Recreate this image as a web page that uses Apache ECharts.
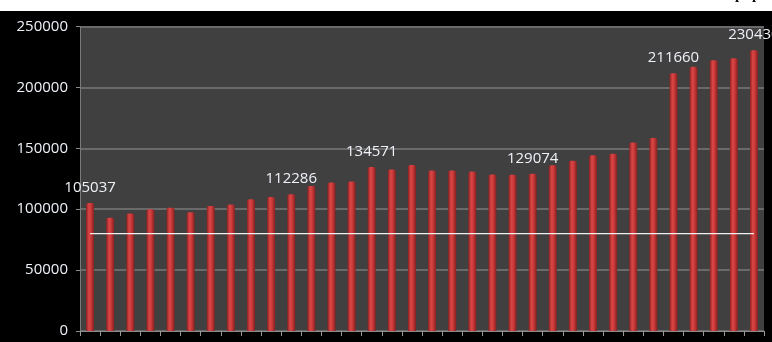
<!DOCTYPE html>
<html>
<head>
<meta charset="utf-8">
<script src="https://cdn.jsdelivr.net/npm/echarts@6/dist/echarts.min.js"></script>
<style>
  html, body { margin: 0; padding: 0; background: #ffffff; }
  #chart { width: 772px; height: 342px; }
</style>
</head>
<body>
<div id="chart"></div>
<script>
// Period labels along the horizontal axis (not printed on the axis)
const categories = ['1','2','3','4','5','6','7','8','9','10','11','12','13','14','15','16','17',
  '18','19','20','21','22','23','24','25','26','27','28','29','30','31','32','33','34'];

// Bar values
const barValues = [105037, 92900, 96500, 100000, 101100, 97500, 102700, 103900, 108200,
  110100, 112286, 119100, 121900, 122700, 134571, 132500, 136300, 131700, 131700,
  130900, 128400, 128300, 129074, 136000, 139700, 144200, 145600, 154800, 158500,
  211660, 216900, 222300, 224000, 230430];

// Bars that carry a value label
const labeledBars = [0, 10, 14, 22, 29, 33];

// Constant reference level drawn as a white line across the bars
const referenceLevel = 80000;
const referenceValues = categories.map(() => referenceLevel);

// Y-axis range
const yMin = 0, yMax = 250000, yStep = 50000;

const barGradient = new echarts.graphic.LinearGradient(0, 0, 1, 0, [
  { offset: 0, color: '#8a2020' },
  { offset: 0.35, color: '#d84646' },
  { offset: 0.6, color: '#cc3a3a' },
  { offset: 1, color: '#852020' }
]);

const labelFont = { fontFamily: 'Open Sans', fontSize: 15, color: '#eef2f8' };

const chart = echarts.init(document.getElementById('chart'), null, { renderer: 'canvas' });

chart.setOption({
  backgroundColor: '#000000',
  animation: false,
  grid: {
    left: 80, right: 8, top: 26.5, bottom: 11,
    show: true, backgroundColor: '#404040', borderWidth: 0
  },
  xAxis: {
    type: 'category',
    data: categories,
    boundaryGap: true,
    axisLine: { lineStyle: { color: '#8a8a8a', width: 1 } },
    axisTick: { show: true, length: 5, lineStyle: { color: '#9a9a9a' } },
    axisLabel: { show: false },
    splitLine: { show: false }
  },
  yAxis: {
    type: 'value',
    min: yMin, max: yMax, interval: yStep,
    axisLine: { show: true, lineStyle: { color: '#7a7a7a', width: 1 } },
    axisTick: { show: true, length: 4, lineStyle: { color: '#8a8a8a' } },
    axisLabel: Object.assign({ margin: 12, formatter: v => String(v) }, labelFont),
    splitLine: { show: true, lineStyle: { color: '#6a6a6a', width: 2 } }
  },
  series: [
    {
      type: 'bar',
      barWidth: 8,
      data: barValues.map((v, i) => ({
        value: v,
        label: { show: labeledBars.includes(i) }
      })),
      itemStyle: { color: barGradient, borderRadius: [2, 2, 0, 0] },
      label: Object.assign({
        position: 'top',
        distance: 8,
        formatter: p => String(p.value)
      }, labelFont),
      z: 2
    },
    {
      type: 'line',
      data: referenceValues,
      showSymbol: false,
      symbol: 'none',
      lineStyle: { color: '#f0f0f0', width: 1.2 },
      z: 3
    }
  ],
  graphic: [
    { type: 'rect', left: 0, top: 0, shape: { width: 772, height: 11 }, style: { fill: '#ffffff' }, z: 10 },
    { type: 'text', x: 735, y: 3, z: 11,
      style: { text: 'p', font: 'bold 15px "Liberation Serif"', fill: '#111', verticalAlign: 'bottom' } },
    { type: 'text', x: 752, y: 3, z: 11,
      style: { text: 'p', font: 'bold 15px "Liberation Serif"', fill: '#111', verticalAlign: 'bottom' } }
  ]
});
</script>
</body>
</html>
